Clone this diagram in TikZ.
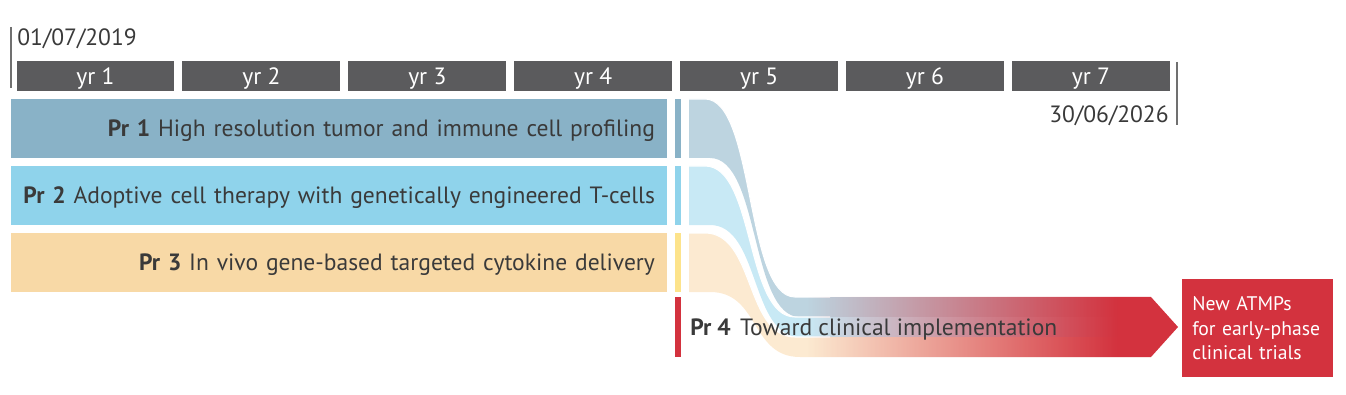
\documentclass[tikz,border=0pt]{standalone}
\usepackage{fontspec}
\setmainfont{PT Sans}
\usetikzlibrary{fadings}

\definecolor{yrgray}{HTML}{5B5B5D}
\definecolor{linegray}{HTML}{707070}
\definecolor{txtgray}{HTML}{3A3A3A}
\definecolor{prone}{HTML}{89B2C7}
\definecolor{prtwo}{HTML}{8FD3EB}
\definecolor{prthree}{HTML}{F8D9A6}
\definecolor{stripthree}{HTML}{FDE38B}
\definecolor{flowone}{HTML}{BDD4E0}
\definecolor{flowtwo}{HTML}{C8E9F5}
\definecolor{flowthree}{HTML}{FCEAD1}
\definecolor{prred}{HTML}{D3323E}

\pgfdeclarehorizontalshading{arrowfadeshade}{100bp}{color(0bp)=(black); color(26bp)=(black); color(67bp)=(white); color(100bp)=(white)}
\pgfdeclarefading{arrowfade}{\pgfuseshading{arrowfadeshade}}

\begin{document}
\begin{tikzpicture}[x=0.02cm,y=-0.02cm,
        font=\fontsize{13.4}{16}\selectfont,
        yrbar/.style={fill=yrgray,text=white,minimum width=3.16cm,minimum height=0.6cm,inner sep=0pt,text depth=0pt},
        prbar/.style={minimum height=1.18cm,text width=12.64cm,inner xsep=0.24cm,inner ysep=0pt,align=right,text=txtgray,text depth=0pt},
        strip/.style={minimum width=0.12cm,minimum height=1.18cm,inner sep=0pt},
        dateline/.style={draw=linegray,line width=1.1pt}]
    \useasboundingbox (0,0) rectangle (1346,395);

    \draw[dateline] (11,27) -- (11,88);
    \draw[dateline] (1177,62) -- (1177,125);
    \node[anchor=base west,inner sep=0pt,text=txtgray] (start) at (17,46) {01/07/2019};
    \node[anchor=base east,inner sep=0pt,text=txtgray] (end) at (1169,123) {30/06/2026};

    \foreach \i in {1,...,7}
        \node[yrbar] (yr\i) at ({95.5+165.9*(\i-1)},76) {yr \i};

    \node[prbar,fill=prone] (pr1) at (339,128.5) {\textbf{Pr 1} High resolution tumor and immune cell profiling};
    \node[prbar,fill=prtwo] (pr2) at (339,195.5) {\textbf{Pr 2} Adoptive cell therapy with genetically engineered T-cells};
    \node[prbar,fill=prthree] (pr3) at (339,262.5) {\textbf{Pr 3} In vivo gene-based targeted cytokine delivery};

    \node[strip,fill=prone] (s1) at (678,128.5) {};
    \node[strip,fill=prtwo] (s2) at (678,195.5) {};
    \node[strip,fill=stripthree] (s3) at (678,262.5) {};
    \node[strip,fill=prred,minimum height=1.2cm] (s4) at (678,327) {};

    \foreach \ya/\yb/\col in {99/297/flowone,166/317/flowtwo,233/337/flowthree}{
        \fill[\col] (689,\ya) -- (705,\ya)
            .. controls (755,\ya) and (745,\yb) .. (795,\yb) -- (1151,\yb) -- (1151,\yb+20)
            -- (800,\yb+20) .. controls (750,\yb+20) and (760,\ya+59) .. (710,\ya+59)
            -- (689,\ya+59) -- cycle;
        \draw[white,line width=0.6pt] (689,\ya) -- (705,\ya)
            .. controls (755,\ya) and (745,\yb) .. (795,\yb) -- (830,\yb);
    }

    \coordinate (tail) at (800,327);
    \coordinate (tip) at (1178,327);
    \fill[prred,path fading=arrowfade] (tail |- 0,297) -- (1151,297) -- (tip) -- (1151,357) -- (tail |- 0,357) -- cycle;

    \node[anchor=base west,inner sep=0pt,text=txtgray] (pr4) at (690,335) {\textbf{Pr 4}\hspace{0.4em}Toward clinical implementation};

    \node[fill=prred,text=white,anchor=north west,minimum width=3.02cm,minimum height=1.96cm,
        text width=2.62cm,inner xsep=0.2cm,inner ysep=0pt,align=left,
        font=\fontsize{11.2}{13.9}\selectfont] (atmp) at (1182,279)
        {New ATMPs\\for early-phase\\clinical trials};
\end{tikzpicture}
\end{document}
